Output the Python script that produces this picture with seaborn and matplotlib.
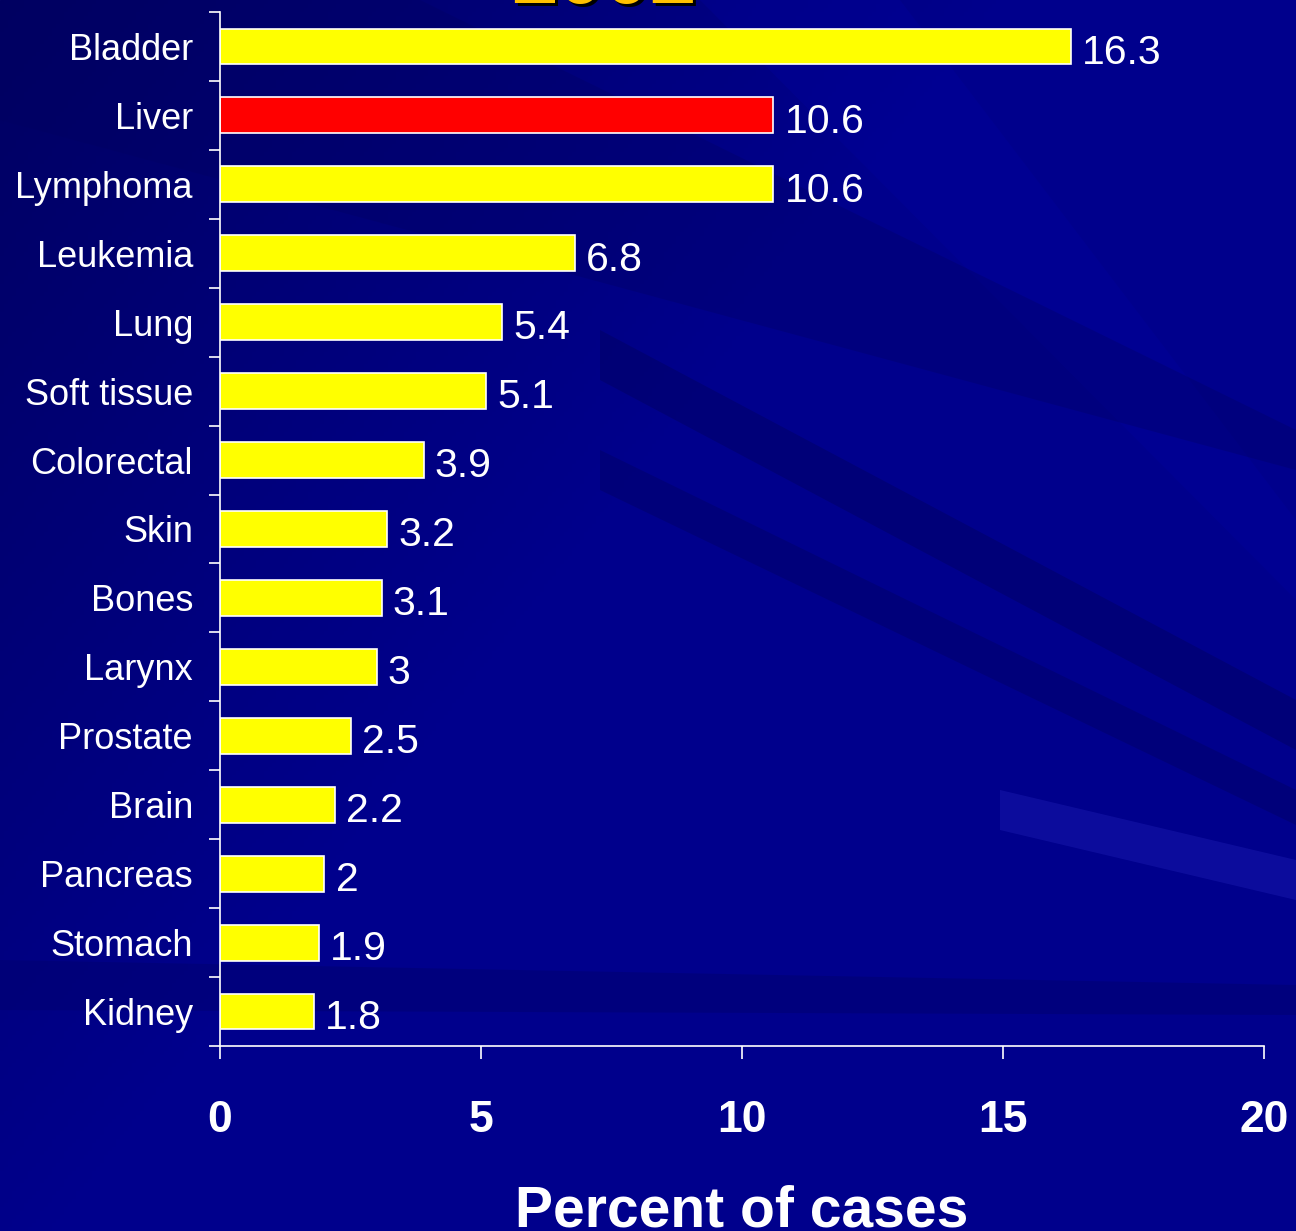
import numpy as np
import matplotlib
matplotlib.use("Agg")
import matplotlib.pyplot as plt
import seaborn as sns
from matplotlib.patches import Polygon, Rectangle
from matplotlib.ticker import FixedLocator

# data
categories = ["Bladder", "Liver", "Lymphoma", "Leukemia", "Lung", "Soft tissue",
              "Colorectal", "Skin", "Bones", "Larynx", "Prostate", "Brain",
              "Pancreas", "Stomach", "Kidney"]
percent = [16.3, 10.6, 10.6, 6.8, 5.4, 5.1, 3.9, 3.2, 3.1, 3, 2.5, 2.2, 2, 1.9, 1.8]
highlight = "Liver"
x_ticks = [0, 5, 10, 15, 20]
year_label = "2002"

sns.set_style("white")
plt.rcParams["font.family"] = ["Liberation Sans", "DejaVu Sans"]

W, H = 1296, 1231
fig = plt.figure(figsize=(W / 100, H / 100), dpi=100)

# slide background: navy with darker diagonal streaks
bg = fig.add_axes([0, 0, 1, 1], zorder=0)
bg.set_xlim(0, W)
bg.set_ylim(H, 0)
bg.axis("off")
bg.add_patch(Rectangle((0, 0), W, H, color="#00008C"))
yy, xx = np.mgrid[0:H:4, 0:W:4]
shade = np.clip(1 - (xx / 1000 + yy / 1300), 0, 1)
rgba = np.zeros(shade.shape + (4,))
rgba[..., 2] = 0.25
rgba[..., 3] = shade * 0.55
bg.imshow(rgba, extent=(0, W, H, 0), aspect="auto", zorder=1)
streaks = [
    ([(600, 330), (1296, 700), (1296, 750), (600, 380)], "#000060", 0.45),
    ([(600, 450), (1296, 790), (1296, 825), (600, 490)], "#000060", 0.4),
    ([(700, 0), (900, 0), (1296, 520), (1296, 600)], "#0000A0", 0.3),
    ([(1000, 790), (1296, 860), (1296, 900), (1000, 830)], "#1515A8", 0.6),
    ([(0, 960), (1296, 985), (1296, 1015), (0, 1010)], "#000070", 0.5),
    ([(0, 0), (420, 0), (1296, 430), (1296, 470), (0, 120)], "#000060", 0.3),
]
for pts, c, a in streaks:
    bg.add_patch(Polygon(pts, closed=True, color=c, alpha=a, lw=0, zorder=2))

ax = fig.add_axes([220 / W, 185 / H, 1044 / W, 1034 / H], zorder=1)
ax.patch.set_alpha(0)

colors = {c: ("#FF0000" if c == highlight else "#FFFF00") for c in categories}
sns.barplot(x=percent, y=categories, hue=categories, palette=colors, legend=False,
            orient="h", width=0.52, saturation=1, edgecolor="white", linewidth=1.2, ax=ax)

for i, v in enumerate(percent):
    ax.annotate(f"{v:g}", xy=(v, i), xytext=(8, -4.5), textcoords="offset points",
                ha="left", va="center", fontsize=29.5, color="white")

ax.set_xlim(0, 20)
ax.set_ylim(len(categories) - 0.5, -0.5)
ax.set_xticks(x_ticks)
ax.set_xticklabels([str(t) for t in x_ticks], fontweight="bold")
ax.tick_params(axis="x", colors="white", bottom=True, direction="out",
               length=9, width=1.2, pad=30, labelsize=32)
ax.tick_params(axis="y", length=0, pad=19.5, labelsize=26, labelcolor="white")
ax.yaxis.set_minor_locator(FixedLocator(np.arange(-0.5, len(categories), 1)))
ax.tick_params(axis="y", which="minor", length=8, width=1.2, color="white",
               left=True, direction="out")
for s in ["top", "right"]:
    ax.spines[s].set_visible(False)
for s in ["left", "bottom"]:
    ax.spines[s].set_color("white")
    ax.spines[s].set_linewidth(1.2)
ax.grid(False)
ax.set_ylabel("")
ax.set_xlabel("Percent of cases", fontsize=41, fontweight="bold", color="white", labelpad=31)

# title, mostly cut off at the top of the slide
fig.text(607 / W, 1 - 6 / H, year_label, ha="center", va="baseline",
         fontsize=60, fontweight="bold", color="black")
fig.text(604 / W, 1 - 3 / H, year_label, ha="center", va="baseline",
         fontsize=60, fontweight="bold", color="#FFC000")

fig.savefig("out.png", dpi=100)
